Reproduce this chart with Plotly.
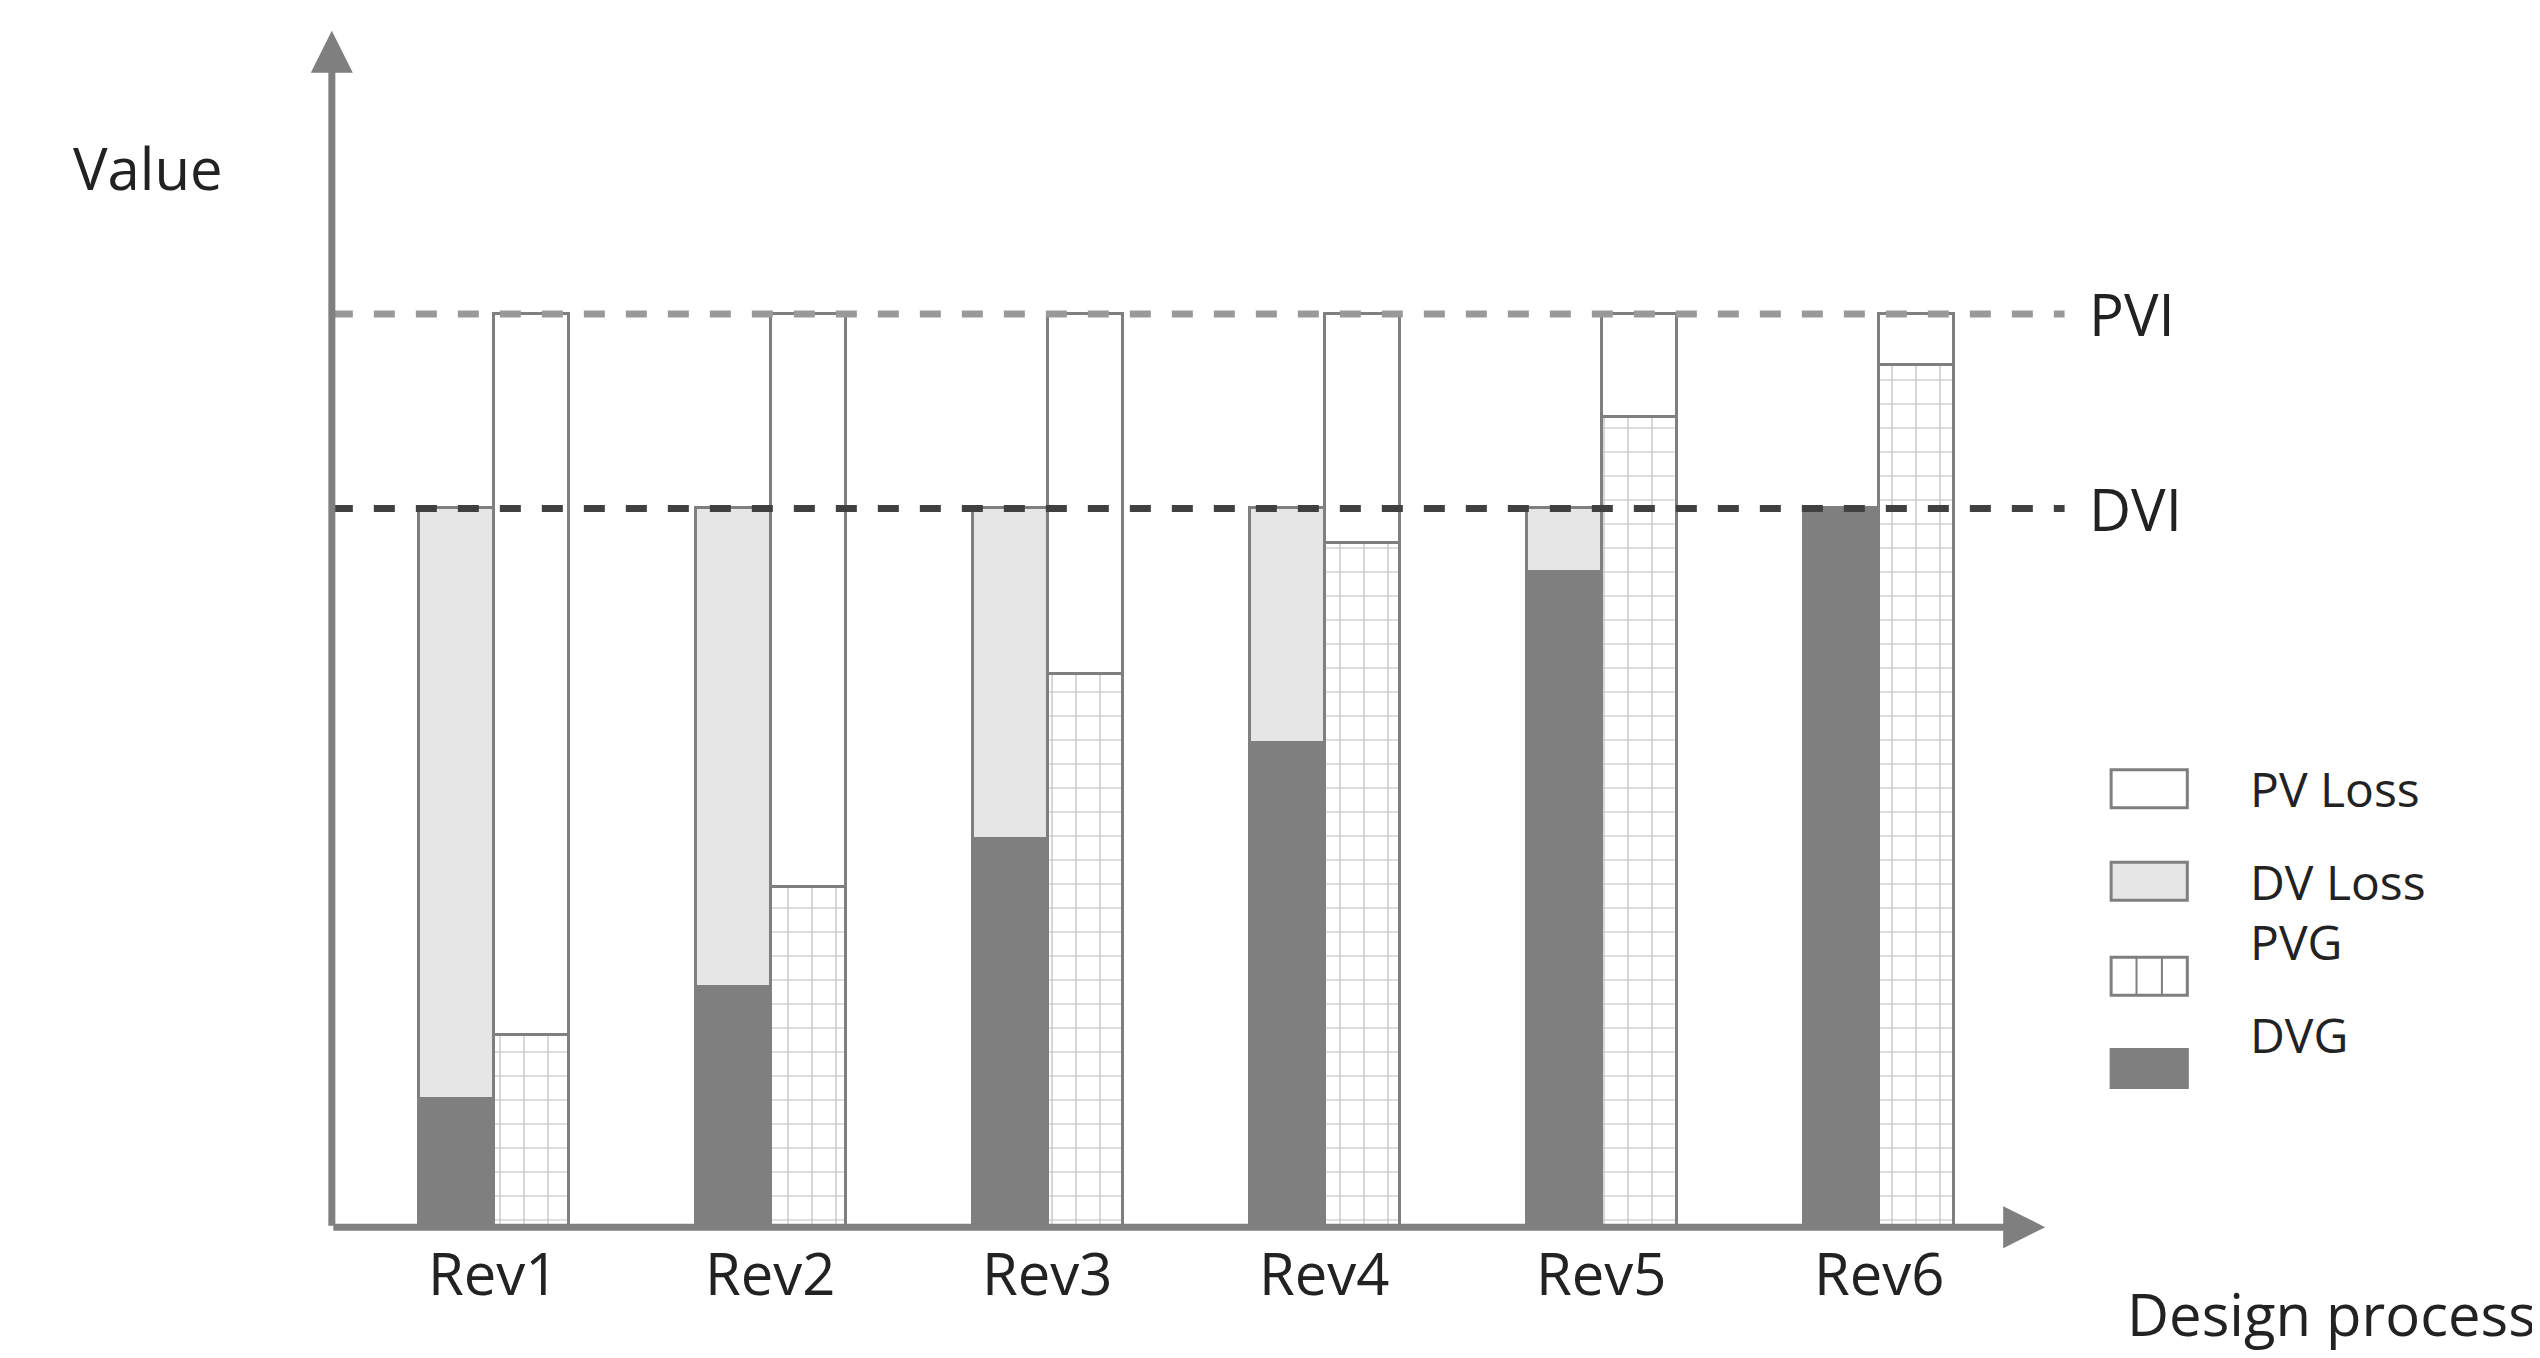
import plotly.graph_objects as go

revs = ["Rev1", "Rev2", "Rev3", "Rev4", "Rev5", "Rev6"]
dvg = [14, 26.3, 42.5, 53, 71.7, 78.7]
pvg = [21, 37.3, 60.6, 74.9, 88.7, 94.4]
DVI = 78.7
PVI = 100
legend_names = ["PV Loss", "DV Loss", "PVG", "DVG"]

xs = list(range(len(revs)))
w = 0.27
dx = [x - w / 2 for x in xs]
px = [x + w / 2 for x in xs]
line = dict(color="#7f7f7f", width=3)

fig = go.Figure()
fig.add_bar(x=px, y=[PVI - v for v in pvg], base=pvg, width=w, name="PV Loss",
            marker=dict(color="white", line=line))
fig.add_bar(x=dx, y=[DVI - v for v in dvg], base=dvg, width=w, name="DV Loss",
            marker=dict(color="#e6e6e6", line=line))
fig.add_bar(x=px, y=pvg, width=w, name="PVG",
            marker=dict(color="white", line=line,
                        pattern=dict(shape="+", fgcolor="#7f7f7f", bgcolor="white", size=24, solidity=0.1)))
fig.add_bar(x=dx, y=dvg, width=w, name="DVG", marker=dict(color="#7f7f7f", line=line))

x0, xend = -0.585, 5.67
fig.add_shape(type="line", x0=x0, x1=xend, y0=PVI, y1=PVI, line=dict(color="#999999", width=7, dash="dash"))
fig.add_shape(type="line", x0=x0, x1=xend, y0=DVI, y1=DVI, line=dict(color="#404040", width=7, dash="dash"))
fig.add_annotation(x=5.6, y=0, ax=x0, ay=0, xref="x", yref="y", axref="x", ayref="y", text="",
                   showarrow=True, arrowhead=2, arrowsize=1.2, arrowwidth=7, arrowcolor="#7f7f7f")
fig.add_annotation(x=x0, y=131, ax=x0, ay=0, xref="x", yref="y", axref="x", ayref="y", text="",
                   showarrow=True, arrowhead=2, arrowsize=1.2, arrowwidth=7, arrowcolor="#7f7f7f")
f = dict(family="Open Sans", color="#222", size=58)
for x, r in zip(xs, revs):
    fig.add_annotation(x=x, y=-5, text=r, showarrow=False, font=f)
fig.add_annotation(x=5.75, y=PVI, text="PVI", showarrow=False, font=f, xanchor="left")
fig.add_annotation(x=5.75, y=DVI, text="DVI", showarrow=False, font=f, xanchor="left")
fig.add_annotation(x=-1.25, y=116, text="Value", showarrow=False, font=f)
fig.add_annotation(x=7.38, y=-9.5, text="Design process", showarrow=False, font=f, xanchor="right")

# manual legend
fills = ["white", "#e6e6e6", "white", "#7f7f7f"]
lx0, lx1 = 0.828, 0.858
ly = [0.425, 0.357, 0.287, 0.219]
bh = 0.028
lf = dict(family="Open Sans", color="#222", size=48)
for i, (n, c) in enumerate(zip(legend_names, fills)):
    y0, y1 = ly[i] - bh / 2, ly[i] + bh / 2
    fig.add_shape(type="rect", xref="paper", yref="paper", x0=lx0, x1=lx1, y0=y0, y1=y1,
                  fillcolor=c, line=dict(color="#7f7f7f", width=3))
    if n == "PVG":
        for k in (1, 2):
            xx = lx0 + (lx1 - lx0) * k / 3
            fig.add_shape(type="line", xref="paper", yref="paper", x0=xx, x1=xx, y0=y0, y1=y1,
                          line=dict(color="#7f7f7f", width=2))
    fig.add_annotation(xref="paper", yref="paper", x=0.882, y=ly[i], text=n, showarrow=False,
                       xanchor="left", font=lf)

fig.update_layout(
    width=2540, height=1358, margin=dict(l=0, r=0, t=0, b=0), showlegend=False,
    paper_bgcolor="white", plot_bgcolor="white", barmode="overlay", bargap=0,
    xaxis=dict(range=[-1.754, 7.415], visible=False),
    yaxis=dict(range=[-15.2, 133.5], visible=False),
)
fig.write_html("out.html")
